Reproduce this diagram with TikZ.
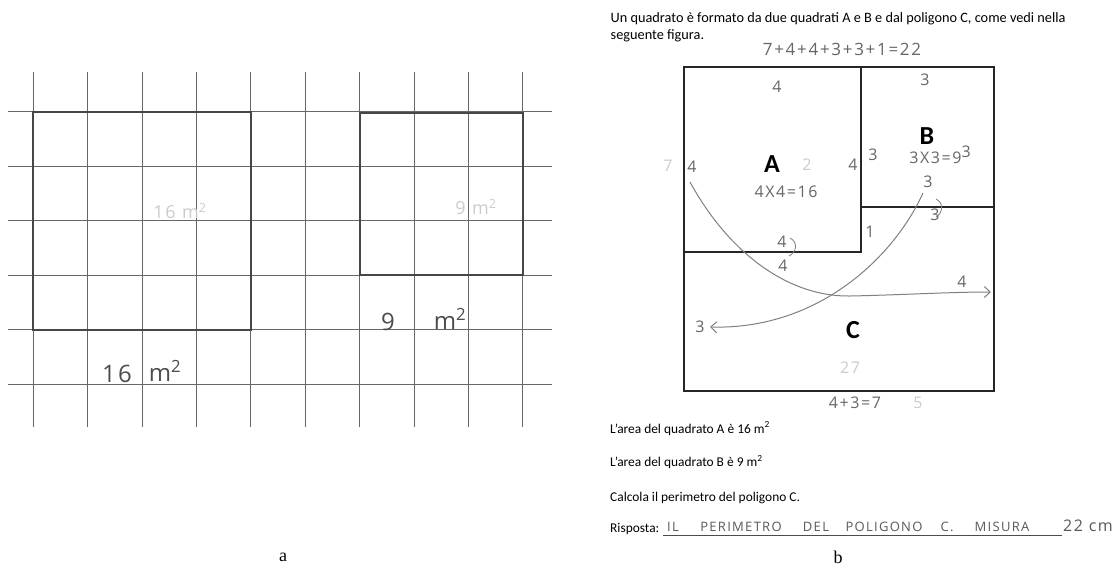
\documentclass[tikz,border=0pt]{standalone}
\usepackage{fontspec}
\setmainfont{Liberation Serif}
\newfontfamily\printfont{Carlito}
\newfontfamily\handfont{Open Sans}[LetterSpace=10]
\usetikzlibrary{arrows.meta}
\begin{document}
\begin{tikzpicture}[x=1pt,y=-1pt,
  gridline/.style={draw=black!60, line width=0.9pt},
  sqline/.style={draw=black!72, line width=2pt},
  figline/.style={draw=black!85, line width=1.4pt},
  hand/.style={font=\handfont\fontsize{16}{16}\selectfont, text=black!60, inner sep=0pt},
  handL/.style={font=\handfont\fontsize{24}{24}\selectfont, text=black!70, inner sep=0pt},
  faint/.style={font=\handfont\fontsize{16}{16}\selectfont, text=black!20, inner sep=0pt},
  printed/.style={font=\printfont\fontsize{13.4}{15}\selectfont, anchor=west, inner sep=0pt},
  printedtop/.style={font=\printfont\fontsize{14.3}{16}\selectfont, anchor=west, inner sep=0pt},
  bigletter/.style={font=\printfont\bfseries\fontsize{26}{26}\selectfont, inner sep=0pt},
  caption/.style={font=\fontsize{18}{18}\selectfont, inner sep=0pt},
  curve/.style={draw=black!50, line width=1pt},
  barb/.style={-{Straight Barb[length=6pt,width=11pt]}}
]
\useasboundingbox[fill=white] (0,0) rectangle (1114,574);

% ---------- panel a : squared paper ----------
\foreach \i in {0,...,9}
  \draw[gridline] ({33.3+54.4*\i},72) -- ({33.3+54.4*\i},427);
\foreach \j in {0,...,5}
  \draw[gridline] (8,{111.7+54.5*\j}) -- (552,{111.7+54.5*\j});
\draw[sqline] (33.3,111.7) rectangle (250.9,329.7);
\draw[sqline] (359.7,112.5) rectangle (522.9,275.2);

\node[faint, font=\handfont\fontsize{18}{18}\selectfont] (fa1) at (180,211) {16 m\textsuperscript{2}};
\node[faint, font=\handfont\fontsize{18}{18}\selectfont] (fa2) at (476,207) {9 m\textsuperscript{2}};
\node[handL] (ha16) at (117,374) {16};
\node[handL] (ha16m) at (165,371) {m\textsuperscript{2}};
\node[handL] (ha9)  at (388,322) {9};
\node[handL] (ha9m) at (450,319) {m\textsuperscript{2}};
\node[caption] (capa) at (283,557) {a};

% ---------- panel b : worksheet ----------
\node[printedtop] (t1) at (610.5,19) {Un quadrato è formato da due quadrati A e B e dal poligono C, come vedi nella};
\node[printedtop] (t2) at (610.5,36) {seguente figura.};
\node[hand, font=\handfont\fontsize{17}{17}\selectfont] (sum) at (842,49) {7+4+4+3+3+1=22};

\draw[figline] (684,67) rectangle (994,391);
\draw[figline] (684,252) -- (861,252) -- (861,67);
\draw[figline] (861,207) -- (994,207);

\node[bigletter] (A) at (772,164) {A};
\node[bigletter] (B) at (927,136) {B};
\node[bigletter] (C) at (853,330) {C};

\node[hand] (l4x4) at (786,192) {4X4=16};
\node[hand] (l3x3) at (940,155) {3X3=9\raisebox{6pt}{3}};
\node[hand] (lA4top) at (777,87) {4};
\node[hand] (lB3top) at (925,80) {3};
\node[hand] (lA4left) at (692,167) {4};
\node[faint] (f7) at (668,166) {7};
\node[faint] (f2) at (807,165) {2};
\node[hand] (lA4right) at (853,165) {4};
\node[hand] (lB3left) at (873,155) {3};
\node[hand] (lB3low) at (928,182) {3};
\node[hand] (lC3) at (935,215) {3};
\node[hand] (lC1) at (870,232) {1};
\node[hand] (lA4bot) at (782,242) {4};
\node[hand] (lC4) at (783,266) {4};
\node[hand] (lR4) at (962,282) {4};
\node[hand] (lL3) at (700,327) {3};
\node[faint] (f27) at (850,368) {27};
\node[hand] (lsum2) at (855,403) {4+3=7};
\node[faint] (f5) at (918,403) {5};

% curl marks
\draw[curve, line width=0.8pt] (790,238) .. controls (798,242) and (797,252) .. (789,256);
\draw[curve, line width=0.8pt] (936,199) .. controls (944,203) and (943,213) .. (936,217);

% arrows of the student
\coordinate (c1a) at (690,182);
\coordinate (c1b) at (850,296);
\coordinate (c1c) at (991,292);
\draw[curve, barb] (c1a) .. controls (730,255) and (790,297) .. (c1b)
                       .. controls (900,295) and (950,292) .. (c1c);
\coordinate (c2a) at (923,193);
\coordinate (c2b) at (710,327);
\draw[curve, barb] (c2a) .. controls (895,255) and (820,330) .. (c2b);

\node[printed] (q1) at (610,428.5) {L’area del quadrato A è 16 m\textsuperscript{2}};
\node[printed] (q2) at (610,462) {L’area del quadrato B è 9 m\textsuperscript{2}};
\node[printed] (q3) at (610,497.5) {Calcola il perimetro del poligono C.};
\node[printed] (q4) at (610,528.5) {Risposta:};
\coordinate (u1) at (663,535);
\coordinate (u2) at (1062,535);
\draw[black!70, line width=0.9pt] (u1) -- (u2);
\begin{scope}[every node/.style={hand, font=\handfont\fontsize{13}{13}\selectfont, text=black!65}]
\node (w1) at (673,527) {IL};
\node (w2) at (741,527) {PERIMETRO};
\node (w3) at (816,527) {DEL};
\node (w4) at (884,527) {POLIGONO};
\node (w5) at (947,527) {C.};
\node (w6) at (1002,527) {MISURA};
\node[font=\handfont\fontsize{16}{16}\selectfont] (w7) at (1088,526) {22 cm};
\end{scope}
\node[caption] (capb) at (838,557) {b};
\end{tikzpicture}
\end{document}
